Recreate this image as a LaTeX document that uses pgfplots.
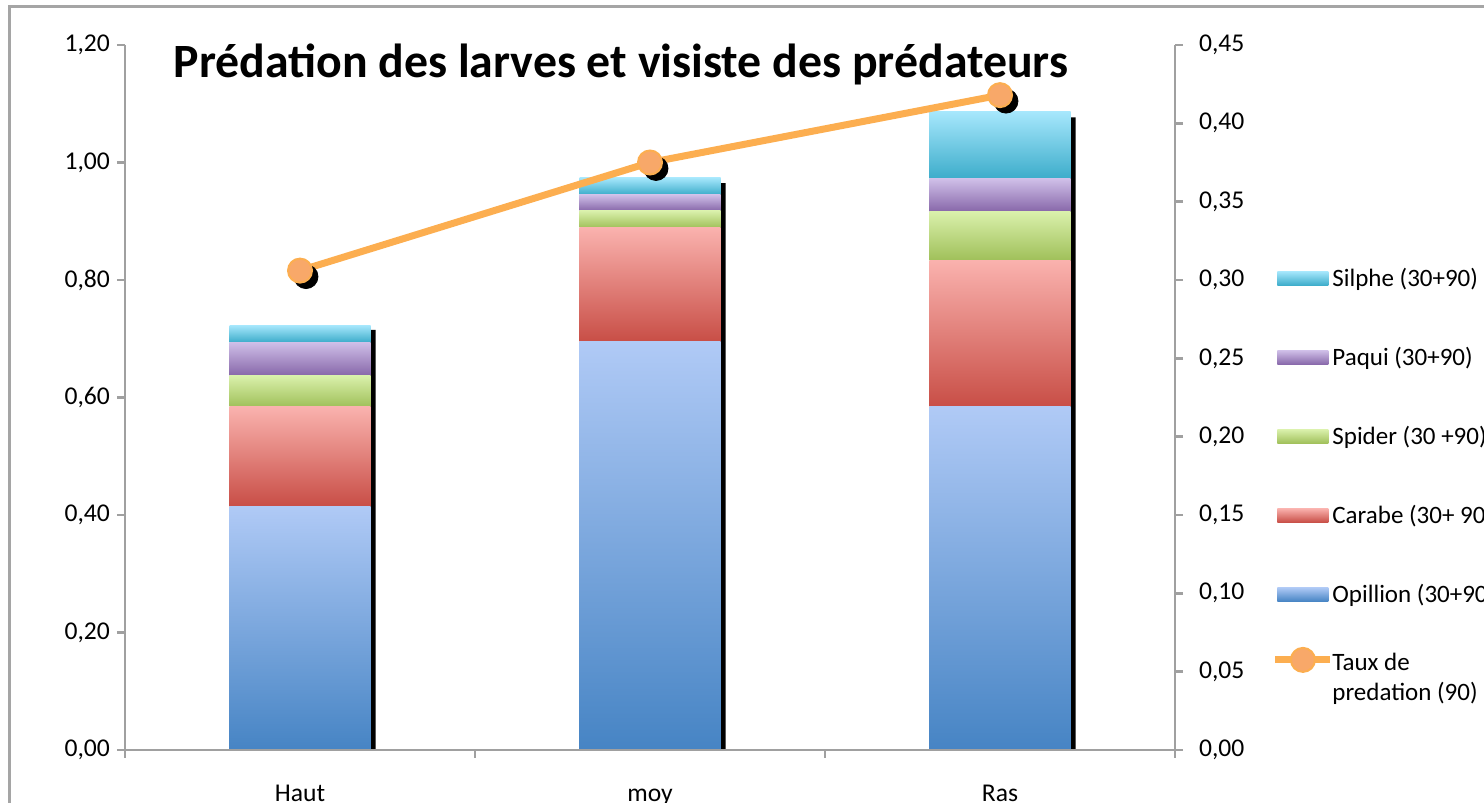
\documentclass[border=0pt]{standalone}
\usepackage{pgfplots}
\pgfplotsset{compat=1.18}
\usepackage{fontspec}
\setmainfont{Carlito}

\definecolor{opiT}{RGB}{176,202,246}
\definecolor{opiB}{RGB}{70,132,196}
\definecolor{carT}{RGB}{250,178,174}
\definecolor{carB}{RGB}{200,78,70}
\definecolor{spiT}{RGB}{218,241,172}
\definecolor{spiB}{RGB}{160,192,90}
\definecolor{paqT}{RGB}{207,191,232}
\definecolor{paqB}{RGB}{136,104,170}
\definecolor{silT}{RGB}{166,231,252}
\definecolor{silB}{RGB}{60,172,202}
\definecolor{lineor}{RGB}{252,174,80}
\definecolor{markor}{RGB}{248,168,105}
\definecolor{axgray}{RGB}{160,160,160}
\definecolor{framegray}{RGB}{165,165,165}

\pgfplotsset{
  base/.style={scale only axis, width=525pt, height=352.5pt,
    xmin=-0.5, xmax=2.5, enlargelimits=false, at={(0,0)}, anchor=south west},
  barsaxis/.style={base, hide axis, ymin=0, ymax=1.2, ybar stacked, bar width=70.5pt},
  opi/.style={draw=none, top color=opiT, bottom color=opiB},
  car/.style={draw=none, top color=carT, bottom color=carB},
  spi/.style={draw=none, top color=spiT, bottom color=spiB},
  paq/.style={draw=none, top color=paqT, bottom color=paqB},
  sil/.style={draw=none, top color=silT, bottom color=silB},
  numfmt/.style={/pgf/number format/.cd, fixed, fixed zerofill, precision=2, use comma, assume math mode=true},
  barleg/.style 2 args={legend image code/.code={%
      \path[draw=none, fill=none] (0pt,-9.5pt) rectangle (0pt,9.5pt);
      \path[draw=none, top color=#1, bottom color=#2] (1pt,-3.5pt) rectangle (26.5pt,3.5pt);}},
  lineleg/.style={legend image code/.code={\draw[overlay, mark repeat=2, mark phase=2, ##1]
    plot coordinates {(0pt,0pt) (13.75pt,0pt) (27.5pt,0pt)};}},
}

\begin{document}
\begin{tikzpicture}
\useasboundingbox (-62.5pt,-26.5pt) rectangle (679.5pt,375pt);
\draw[framegray, line width=1.5pt] (-57.5pt,-60pt) -- (-57.5pt,371.5pt) -- (720pt,371.5pt);

% shadows of the bars
\begin{axis}[base, hide axis, ymin=0, ymax=1.2, ybar, bar width=70.5pt, bar shift=2.5pt]
\addplot[fill=black, draw=none] coordinates {(0,0.715) (1,0.965) (2,1.077)};
\end{axis}

% stacked bars: one axis per category so that each segment has its own gradient
\begin{axis}[barsaxis]
\addplot[opi] coordinates {(0,0.415)};
\addplot[car] coordinates {(0,0.169)};
\addplot[spi] coordinates {(0,0.054)};
\addplot[paq] coordinates {(0,0.056)};
\addplot[sil] coordinates {(0,0.029)};
\end{axis}
\begin{axis}[barsaxis]
\addplot[opi] coordinates {(1,0.695)};
\addplot[car] coordinates {(1,0.194)};
\addplot[spi] coordinates {(1,0.029)};
\addplot[paq] coordinates {(1,0.027)};
\addplot[sil] coordinates {(1,0.029)};
\end{axis}
\begin{axis}[barsaxis]
\addplot[opi] coordinates {(2,0.584)};
\addplot[car] coordinates {(2,0.250)};
\addplot[spi] coordinates {(2,0.083)};
\addplot[paq] coordinates {(2,0.055)};
\addplot[sil] coordinates {(2,0.114)};
\end{axis}

% left axis
\begin{axis}[base, ymin=0, ymax=1.2,
  axis x line*=bottom, axis y line*=left,
  axis line style={axgray, line width=1.3pt},
  tick align=outside, major tick length=4pt,
  tick style={axgray, line width=1.3pt},
  ytick={0,0.2,0.4,0.6,0.8,1.0,1.2},
  yticklabel style={numfmt},
  tick label style={font=\fontsize{12.8}{15}\selectfont, text=black},
  xtick={-0.5,0.5,1.5,2.5}, xticklabels={},
  extra x ticks={0,1,2}, extra x tick labels={Haut,moy,Ras},
  extra x tick style={major tick length=0pt, xticklabel style={yshift=-14pt, text height=8.3pt}},
]
\addplot[draw=none] coordinates {(0,0)};
\end{axis}

% line, right axis
\begin{axis}[base, ymin=0, ymax=0.45, clip=false,
  axis x line=none, axis y line*=right,
  axis line style={axgray, line width=1.3pt},
  tick align=outside, major tick length=4pt,
  tick style={axgray, line width=1.3pt},
  ytick={0,0.05,0.10,0.15,0.20,0.25,0.30,0.35,0.40,0.45},
  yticklabel style={xshift=4.5pt, numfmt},
  tick label style={font=\fontsize{12.8}{15}\selectfont, text=black},
  legend style={draw=none, fill=none, inner sep=0pt, at={(1.09524,0.69645)}, anchor=north west,
    font=\fontsize{12.5}{15}\selectfont, cells={anchor=west},
    nodes={inner sep=2pt, text depth=0.15em}, row sep=20.5pt, column sep=0pt},
]
\addlegendimage{barleg={silT}{silB}}
\addlegendentry{Silphe (30+90)}
\addlegendimage{barleg={paqT}{paqB}}
\addlegendentry{Paqui (30+90)}
\addlegendimage{barleg={spiT}{spiB}}
\addlegendentry{Spider (30 +90)}
\addlegendimage{barleg={carT}{carB}}
\addlegendentry{Carabe (30+ 90)}
\addlegendimage{barleg={opiT}{opiB}}
\addlegendentry{Opillion (30+90)}
\addplot[black, only marks, mark=*, mark size=6pt, forget plot,
  mark options={xshift=3pt, yshift=-3pt}] coordinates {(0,0.306) (1,0.375) (2,0.418)};
\addplot[lineor, line width=3.5pt, mark=*, mark size=6pt,
  mark options={fill=markor, draw=lineor, line width=1pt}, lineleg]
  coordinates {(0,0.306) (1,0.375) (2,0.418)};
\addlegendentry{\raisebox{-6pt}[0pt][0pt]{\begin{tabular}[t]{@{}l@{}}Taux de\\predation (90)\end{tabular}}}
\node[anchor=base, font=\bfseries\fontsize{23.9}{28}\selectfont] at (axis description cs:0.4724,0.9532)
  {Prédation des larves et visiste des prédateurs};
\end{axis}
\end{tikzpicture}
\end{document}
